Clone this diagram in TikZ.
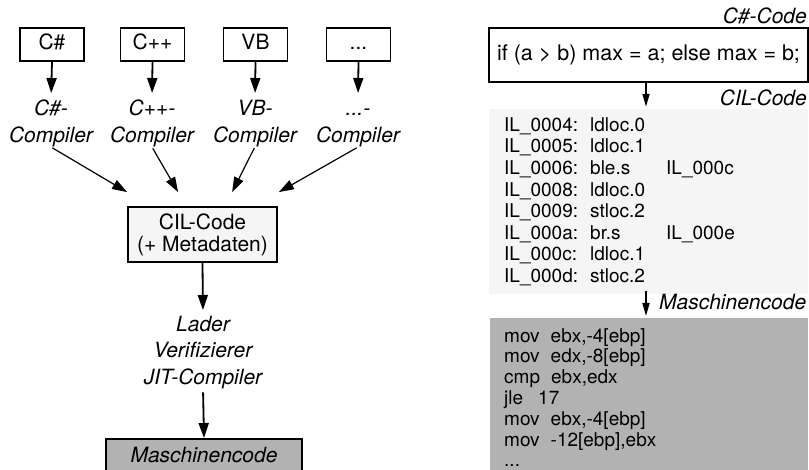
\documentclass[tikz,border=0pt]{standalone}
\usepackage{fontspec}
\setmainfont{TeX Gyre Heros}
\usetikzlibrary{arrows.meta,calc}
\begin{document}
\begin{tikzpicture}[x=1pt,y=-1pt,
  lbox/.style={draw, line width=1.8pt, inner sep=0pt, font=\fontsize{21pt}{22pt}\selectfont},
  tbox/.style={lbox, minimum width=64pt, minimum height=33pt, text height=15pt, text depth=4pt},
  ital/.style={inner sep=0pt, align=center, font=\fontsize{21pt}{27pt}\selectfont\itshape},
  side/.style={inner sep=0pt, font=\fontsize{21pt}{22pt}\selectfont\itshape},
  code/.style={inner sep=0pt, align=left, font=\fontsize{19pt}{21.6pt}\selectfont},
  arr/.style={line width=1.8pt, -{Triangle[length=15pt,width=10pt]}},
  darr/.style={line width=1.2pt, -{Triangle[length=15pt,width=10pt]}},
  rarr/.style={line width=1.8pt, -{Triangle[length=13pt,width=7pt]}}
]
\useasboundingbox (0,0) rectangle (809,470);
\clip (0,0) rectangle (809,470);

% ---------- left part ----------
\node[tbox] (cs)   at (52,44.5)   {C\#};
\node[tbox] (cpp)  at (152.5,44.5){C++};
\node[tbox] (vb)   at (255.5,44.5){VB};
\node[tbox] (dots) at (358.5,44.5){...};

\node[ital, anchor=north] (csl)  at (51,99.5)  {C\#-\\Compiler};
\node[ital, anchor=north] (cppl) at (152,99.5) {C++-\\Compiler};
\node[ital, anchor=north] (vbl)  at (255,99.5) {VB-\\Compiler};
\node[ital, anchor=north] (dotl) at (358,99.5) {\vphantom{C\#}...-\\Compiler};

\foreach \a/\b in {cs/csl, cpp/cppl, vb/vbl, dots/dotl}
  \draw[arr, shorten >=6.5pt] (\a.south) -- (\b.north);

\node[lbox, fill=black!4, minimum width=149pt, minimum height=55pt, align=center] (cil) at (202.5,234.5)
  {CIL-Code\\(+ Metadaten)};

\draw[darr, shorten <=1.5pt] (csl.south)  -- ($(cil.north west)+(0,-14)$);
\draw[darr, shorten <=1.5pt] (cppl.south) -- ($(cil.north west)+(51,-14)$);
\draw[darr, shorten <=1.5pt] (vbl.south)  -- ($(cil.north west)+(105,-14)$);
\draw[darr, shorten <=1.5pt] (dotl.south) -- ($(cil.north east)+(1,-14)$);

\node[ital, anchor=north, font=\fontsize{21pt}{26.5pt}\selectfont\itshape] (jit) at (203,315.7)
  {Lader\\Verifizierer\\JIT-Compiler};
\draw[arr, shorten >=5.7pt] (cil.south) -- (jit.north);

\node[lbox, fill=black!30, minimum width=196pt, anchor=north, inner ysep=9pt,
      text height=15pt, text depth=30pt, font=\fontsize{21pt}{22pt}\selectfont\itshape] (mc) at (204,438)
  {Maschinencode};
\draw[arr, shorten <=3.6pt, shorten >=0pt] (jit.south) -- (mc.north);

% ---------- right part ----------
\coordinate (ax) at (646,0);
\node[side, anchor=base east] (cslab) at (807,24) {C\#-Code};
\node[lbox, minimum width=319pt, minimum height=54pt, font=\fontsize{21.5pt}{24pt}\selectfont] (ifb) at (648.5,55)
  {if (a > b) max = a; else max = b;};

\node[fill=black!4, inner sep=0pt, minimum width=319pt, minimum height=185pt] (cilp) at (648.5,201.5) {};
\node[side, anchor=base east] (cillab) at (807,106) {CIL-Code};
\draw[rarr, shorten >=2pt] (ifb.south -| ax) -- (cilp.north -| ax);

\node[code, anchor=north west] (cilcode) at (504,117.3) {%
\makebox[86pt][l]{IL\_0004:}ldloc.0\\
\makebox[86pt][l]{IL\_0005:}ldloc.1\\
\makebox[86pt][l]{IL\_0006:}\makebox[76pt][l]{ble.s}IL\_000c\\
\makebox[86pt][l]{IL\_0008:}ldloc.0\\
\makebox[86pt][l]{IL\_0009:}stloc.2\\
\makebox[86pt][l]{IL\_000a:}\makebox[76pt][l]{br.s}IL\_000e\\
\makebox[86pt][l]{IL\_000c:}ldloc.1\\
\makebox[86pt][l]{IL\_000d:}stloc.2};

\node[fill=black!30, inner sep=0pt, anchor=north west, minimum width=318pt, minimum height=170pt] (mp) at (490,318) {};
\node[side, anchor=base west] (mclab) at (659,310) {Maschinencode};
\draw[rarr, shorten <=-3pt, shorten >=2pt] (cilp.south -| ax) -- (mp.north -| ax);

\node[code, anchor=north west, font=\fontsize{19pt}{20.8pt}\selectfont] (mcode) at (504,328) {%
mov\hspace{11pt}ebx,-4[ebp]\\
mov\hspace{11pt}edx,-8[ebp]\\
cmp\hspace{11pt}ebx,edx\\
jle\hspace{15pt}17\\
mov\hspace{11pt}ebx,-4[ebp]\\
mov\hspace{11pt}-12[ebp],ebx\\
...};
\end{tikzpicture}
\end{document}
